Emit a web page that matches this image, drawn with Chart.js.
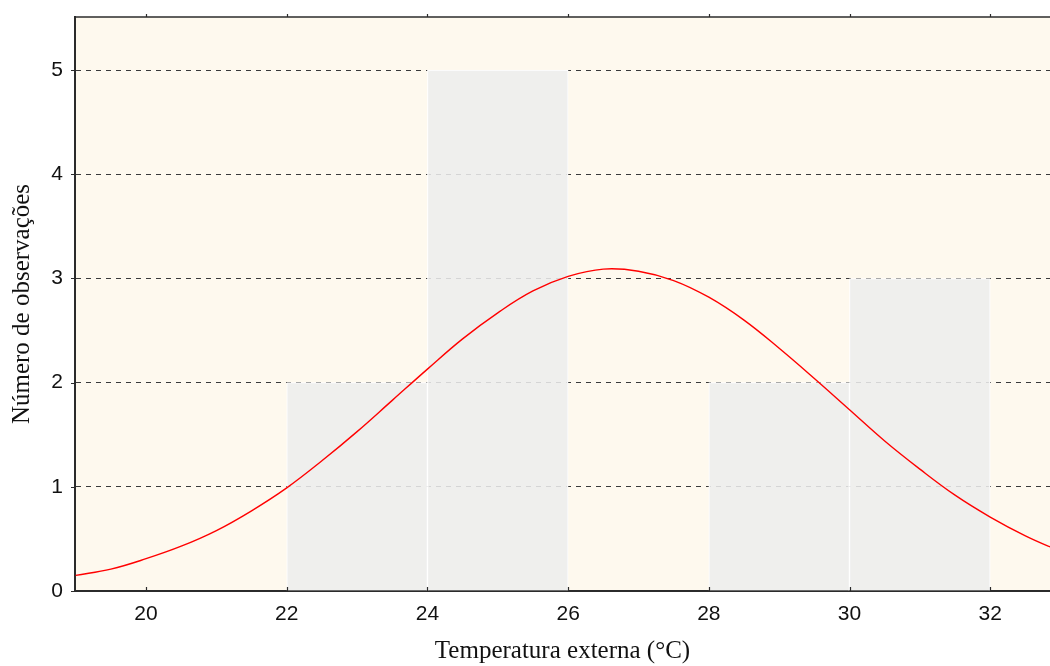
<!DOCTYPE html>
<html>
<head>
<meta charset="utf-8">
<script src="https://cdn.jsdelivr.net/npm/chart.js@4/dist/chart.umd.min.js"></script>
<style>
  html, body { margin: 0; padding: 0; background: #ffffff; }
  #wrap { width: 1050px; height: 666px; }
</style>
</head>
<body>
<div id="wrap"><canvas id="c" width="1050" height="666"></canvas></div>
<script>
// Histogram bins (centre of each 2 °C class) and observation counts
const binCenters = [23, 25, 27, 29, 31];
const binCounts = [2, 5, 0, 2, 3];

// Fitted normal curve, sampled every 0.5 °C
const curveX = [19, 19.5, 20, 20.5, 21, 21.5, 22, 22.5, 23, 23.5, 24, 24.5, 25, 25.5, 26, 26.5,
                27, 27.5, 28, 28.5, 29, 29.5, 30, 30.5, 31, 31.5, 32, 32.5, 33];
const curveY = [0.15, 0.21, 0.31, 0.43, 0.58, 0.77, 0.99, 1.25, 1.53, 1.83, 2.13, 2.42, 2.67, 2.88, 3.02, 3.09,
                3.07, 2.98, 2.82, 2.60, 2.33, 2.04, 1.74, 1.44, 1.17, 0.92, 0.71, 0.53, 0.38];

// Axis ticks
const xTicks = [20, 22, 24, 26, 28, 30, 32];
const yTicks = [0, 1, 2, 3, 4, 5];

const axisColor = '#2b2b2b';

// Cream plot background, top frame line and short tick marks
const framePlugin = {
  id: 'frame',
  beforeDraw(chart) {
    const { ctx, chartArea: a } = chart;
    ctx.save();
    ctx.fillStyle = '#fef9ee';
    ctx.fillRect(a.left, a.top, a.right - a.left, a.bottom - a.top);
    ctx.restore();
  },
  afterDraw(chart) {
    const { ctx, chartArea: a, scales } = chart;
    ctx.save();
    ctx.strokeStyle = axisColor;
    ctx.lineWidth = 1.5;
    ctx.beginPath();
    ctx.moveTo(a.left - 1, a.top);
    ctx.lineTo(a.right, a.top);
    ctx.stroke();
    ctx.lineWidth = 1.2;
    ctx.beginPath();
    xTicks.forEach(v => {
      const px = Math.round(scales.x.getPixelForValue(v)) + 0.5;
      ctx.moveTo(px, a.bottom);
      ctx.lineTo(px, a.bottom - 4);
      ctx.moveTo(px, a.top);
      ctx.lineTo(px, a.top - 3);
    });
    yTicks.forEach(v => {
      const py = Math.round(scales.y.getPixelForValue(v)) + 0.5;
      ctx.moveTo(a.left, py);
      ctx.lineTo(a.left - 4, py);
    });
    ctx.stroke();
    ctx.restore();
  }
};

new Chart(document.getElementById('c'), {
  data: {
    datasets: [
      {
        type: 'line',
        data: curveX.map((x, i) => ({ x, y: curveY[i] })),
        borderColor: '#ff0000',
        borderWidth: 1.4,
        pointRadius: 0,
        tension: 0.4,
        fill: false,
        order: 0
      },
      {
        type: 'bar',
        data: binCenters.map((x, i) => ({ x, y: binCounts[i] })),
        backgroundColor: 'rgba(237,237,237,0.87)',
        borderColor: '#ffffff',
        borderWidth: { left: 1, right: 1, top: 1, bottom: 0 },
        barPercentage: 1,
        categoryPercentage: 1,
        order: 1
      }
    ]
  },
  options: {
    responsive: false,
    animation: false,
    layout: { padding: { top: 17, right: 0, left: 0, bottom: 0 } },
    plugins: { legend: { display: false }, tooltip: { enabled: false } },
    scales: {
      x: {
        type: 'linear',
        offset: false,
        min: 18.99,
        max: 32.85,
        afterBuildTicks: s => { s.ticks = xTicks.map(v => ({ value: v })); },
        afterFit: s => { s.height = 75; s.paddingLeft = 0; s.paddingRight = 0; },
        grid: { display: false, drawTicks: false, offset: false },
        border: { display: true, color: axisColor, width: 2 },
        ticks: {
          color: '#111111',
          padding: 11,
          maxRotation: 0,
          font: { family: '"Liberation Sans", Arial, sans-serif', size: 21 }
        },
        title: {
          display: true,
          text: 'Temperatura externa (°C)',
          color: '#111111',
          padding: { top: 0, bottom: 0 },
          font: { family: '"Liberation Serif", "Times New Roman", serif', size: 25 }
        }
      },
      y: {
        type: 'linear',
        min: 0,
        max: 5.51,
        afterBuildTicks: s => { s.ticks = yTicks.map(v => ({ value: v })); },
        afterFit: s => { s.width = 75; s.paddingTop = 0; s.paddingBottom = 0; },
        grid: { display: true, drawTicks: false, color: '#3a3a3a', lineWidth: 1 },
        border: { display: true, color: axisColor, width: 2, dash: [5, 5] },
        ticks: {
          color: '#111111',
          padding: 12,
          font: { family: '"Liberation Sans", Arial, sans-serif', size: 21 }
        },
        title: {
          display: true,
          text: 'Número de observações',
          color: '#111111',
          padding: { top: 7, bottom: 0 },
          font: { family: '"Liberation Serif", "Times New Roman", serif', size: 25 }
        }
      }
    }
  },
  plugins: [framePlugin]
});
</script>
</body>
</html>
